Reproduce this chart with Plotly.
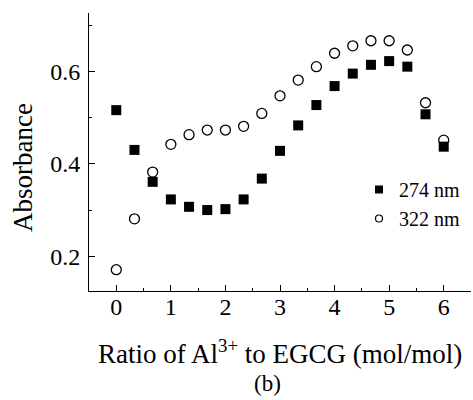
import plotly.graph_objects as go

ratio = [0, 1/3, 2/3, 1, 4/3, 5/3, 2, 7/3, 8/3, 3, 10/3, 11/3, 4, 13/3, 14/3, 5, 16/3, 17/3, 6]
abs_274 = [0.516, 0.430, 0.361, 0.323, 0.307, 0.300, 0.302, 0.323, 0.368, 0.428,
           0.483, 0.527, 0.568, 0.595, 0.614, 0.622, 0.610, 0.507, 0.437]
abs_322 = [0.171, 0.281, 0.382, 0.442, 0.463, 0.473, 0.473, 0.481, 0.509, 0.547,
           0.581, 0.610, 0.639, 0.655, 0.666, 0.666, 0.646, 0.532, 0.451]
series_names = ["274 nm", "322 nm"]

FONT = "'Liberation Serif', 'Times New Roman', serif"
W, H = 473, 400
ML, MR, MT, MB = 89, 2, 13, 109
PW, PH = W - ML - MR, H - MT - MB

def px(x):
    return (x - ML) / PW

def py(y):
    return (H - MB - y) / PH

fig = go.Figure()
fig.add_trace(go.Scatter(x=ratio, y=abs_274, mode="markers", showlegend=False,
                         marker=dict(symbol="square", size=10, color="black",
                                     line=dict(width=0))))
fig.add_trace(go.Scatter(x=ratio, y=abs_322, mode="markers", showlegend=False,
                         marker=dict(symbol="circle-open", size=10, color="black",
                                     line=dict(width=1.3, color="black"))))
# legend entries
fig.add_trace(go.Scatter(x=[None], y=[None], mode="markers", name=series_names[0],
                         marker=dict(symbol="square", size=8, color="black")))
fig.add_trace(go.Scatter(x=[None], y=[None], mode="markers", name=series_names[1],
                         marker=dict(symbol="circle-open", size=7, color="black",
                                     line=dict(width=1.2, color="black"))))

axis_common = dict(showgrid=False, zeroline=False, showline=True, linecolor="black",
                   linewidth=1, ticks="inside", tickcolor="black", tickwidth=1,
                   tickfont=dict(family=FONT, size=24, color="black"), mirror=False)

fig.update_xaxes(range=[-0.5, 6.5], tickmode="linear", tick0=0, dtick=1, ticklen=6,
                 ticklabelstandoff=-6,
                 minor=dict(ticks="inside", dtick=0.5, tick0=0, ticklen=3,
                            tickcolor="black", tickwidth=1),
                 **axis_common)
fig.update_yaxes(range=[0.125, 0.726], tickmode="linear", tick0=0.2, dtick=0.2,
                 ticklen=6, tickformat=".1f", ticklabelstandoff=3,
                 minor=dict(ticks="inside", dtick=0.1, tick0=0.1, ticklen=3,
                            tickcolor="black", tickwidth=1),
                 **axis_common)

fig.add_annotation(text="Absorbance", xref="paper", yref="paper", x=px(23), y=py(168),
                   textangle=-90, showarrow=False, xanchor="center", yanchor="middle",
                   font=dict(family=FONT, size=27, color="black"))
fig.add_annotation(text="Ratio of Al<sup>3+</sup> to EGCG (mol/mol)", xref="paper",
                   yref="paper", x=px(280), y=py(352), showarrow=False,
                   xanchor="center", yanchor="middle",
                   font=dict(family=FONT, size=27, color="black"))
fig.add_annotation(text="(b)", xref="paper", yref="paper", x=px(267), y=py(383),
                   showarrow=False, xanchor="center", yanchor="middle",
                   font=dict(family=FONT, size=23, color="black"))

fig.update_layout(
    width=W, height=H,
    margin=dict(l=ML, r=MR, t=MT, b=MB),
    paper_bgcolor="white", plot_bgcolor="white",
    font=dict(family=FONT, color="black"),
    legend=dict(x=px(359), y=py(170), xanchor="left", yanchor="top",
                bgcolor="rgba(0,0,0,0)", font=dict(family=FONT, size=20, color="black"),
                tracegroupgap=0, itemwidth=30),
)

fig.write_html("out.html")
